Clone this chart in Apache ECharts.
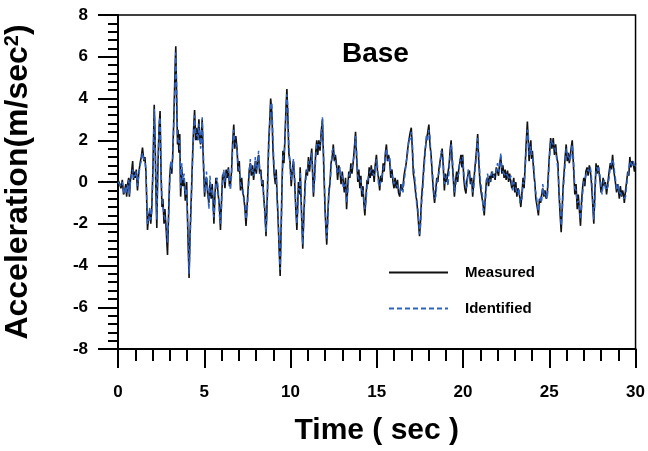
<!DOCTYPE html>
<html>
<head>
<meta charset="utf-8">
<script src="https://cdn.jsdelivr.net/npm/echarts@6/dist/echarts.min.js"></script>
<style>
  html, body { margin: 0; padding: 0; background: #fff; }
  #chart { width: 648px; height: 451px; }
</style>
</head>
<body>
<div id="chart"></div>
<script>
// time (sec), every 0.06 s
const time = [
  0.00, 0.10, 0.17, 0.25, 0.32, 0.37, 0.45, 0.50, 0.56, 0.62, 0.66, 0.72, 0.78, 0.85, 0.90, 0.94,
  1.00, 1.06, 1.13, 1.20, 1.28, 1.35, 1.42, 1.50, 1.56, 1.62, 1.71, 1.78, 1.84, 1.90, 1.96,
  2.03, 2.10, 2.15, 2.20, 2.25, 2.30, 2.38, 2.44, 2.50, 2.55, 2.60, 2.67, 2.72, 2.80, 2.87, 2.95,
  3.00, 3.06, 3.12, 3.18, 3.25, 3.32, 3.35, 3.40, 3.45, 3.48, 3.53, 3.58, 3.63, 3.70, 3.76, 3.83, 3.90, 3.98,
  4.05, 4.12, 4.18, 4.25, 4.32, 4.38, 4.44, 4.50, 4.55, 4.60, 4.65, 4.69, 4.74, 4.79, 4.84, 4.88, 4.95,
  5.02, 5.08, 5.13, 5.20, 5.27, 5.33, 5.40, 5.46, 5.51, 5.56, 5.62, 5.68, 5.75, 5.82, 5.88, 5.94,
  6.00, 6.06, 6.13, 6.20, 6.27, 6.33, 6.40, 6.46, 6.52, 6.58, 6.64, 6.71, 6.77, 6.83, 6.90, 6.96,
  7.03, 7.10, 7.17, 7.23, 7.29, 7.36, 7.42, 7.48, 7.55, 7.61, 7.67, 7.73, 7.80, 7.86, 7.92, 7.96,
  8.02, 8.08, 8.15, 8.21, 8.28, 8.34, 8.40, 8.44, 8.50, 8.58, 8.65, 8.73, 8.80, 8.85, 8.92, 8.98,
  9.05, 9.12, 9.17, 9.21, 9.28, 9.34, 9.40, 9.46, 9.52, 9.56, 9.62, 9.68, 9.74, 9.79, 9.85, 9.90, 9.98,
  10.04, 10.10, 10.17, 10.24, 10.30, 10.37, 10.42, 10.46, 10.52, 10.56, 10.62, 10.66, 10.71, 10.78, 10.85, 10.92, 10.98,
  11.04, 11.10, 11.17, 11.23, 11.28, 11.33, 11.40, 11.46, 11.52, 11.58, 11.64, 11.71, 11.78, 11.85, 11.92,
  12.00, 12.05, 12.10, 12.16, 12.22, 12.29, 12.35, 12.42, 12.48, 12.54, 12.60, 12.67, 12.73, 12.80, 12.87, 12.93,
  13.00, 13.06, 13.12, 13.19, 13.25, 13.31, 13.38, 13.44, 13.50, 13.56, 13.63, 13.70, 13.77, 13.83, 13.90, 13.96,
  14.02, 14.08, 14.13, 14.20, 14.25, 14.31, 14.38, 14.44, 14.50, 14.56, 14.62, 14.68, 14.73, 14.79, 14.85, 14.91, 14.98,
  15.04, 15.10, 15.17, 15.23, 15.30, 15.37, 15.43, 15.50, 15.56, 15.62, 15.68, 15.75, 15.81, 15.88, 15.94,
  16.00, 16.06, 16.13, 16.20, 16.26, 16.33, 16.40, 16.46, 16.52, 16.58, 16.64, 16.71, 16.78, 16.85, 16.92,
  17.00, 17.06, 17.12, 17.19, 17.26, 17.32, 17.38, 17.44, 17.48, 17.54, 17.60, 17.67, 17.73, 17.80, 17.87, 17.94,
  18.02, 18.08, 18.15, 18.22, 18.28, 18.35, 18.42, 18.48, 18.54, 18.60, 18.67, 18.73, 18.79, 18.85, 18.92, 18.98,
  19.05, 19.13, 19.19, 19.25, 19.31, 19.37, 19.44, 19.50, 19.56, 19.63, 19.69, 19.75, 19.81, 19.88, 19.94, 19.98,
  20.04, 20.10, 20.17, 20.23, 20.30, 20.37, 20.43, 20.50, 20.56, 20.62, 20.68, 20.75, 20.85, 20.91, 20.98,
  21.05, 21.13, 21.18, 21.23, 21.30, 21.36, 21.42, 21.48, 21.54, 21.60, 21.66, 21.73, 21.80, 21.86, 21.93,
  22.00, 22.06, 22.12, 22.19, 22.25, 22.31, 22.38, 22.44, 22.50, 22.58, 22.64, 22.70, 22.77, 22.83, 22.87, 22.94,
  23.00, 23.06, 23.12, 23.19, 23.25, 23.30, 23.35, 23.42, 23.48, 23.54, 23.60, 23.67, 23.73, 23.78, 23.83, 23.87, 23.93, 23.97,
  24.02, 24.08, 24.13, 24.17, 24.22, 24.30, 24.37, 24.43, 24.50, 24.56, 24.62, 24.69, 24.75, 24.82, 24.88, 24.94,
  25.00, 25.08, 25.15, 25.23, 25.30, 25.37, 25.43, 25.50, 25.56, 25.63, 25.69, 25.75, 25.81, 25.87, 25.93, 25.98,
  26.04, 26.10, 26.16, 26.22, 26.28, 26.33, 26.40, 26.48, 26.55, 26.62, 26.68, 26.75, 26.81, 26.87, 26.94,
  27.00, 27.06, 27.12, 27.19, 27.25, 27.32, 27.38, 27.44, 27.50, 27.58, 27.64, 27.71, 27.77, 27.83, 27.87, 27.94,
  28.00, 28.06, 28.12, 28.19, 28.25, 28.32, 28.40, 28.47, 28.54, 28.60, 28.67, 28.73, 28.78, 28.83, 28.90, 28.96,
  29.00, 29.06, 29.12, 29.19, 29.25, 29.30, 29.35, 29.42, 29.48, 29.55, 29.61, 29.67, 29.73, 29.80, 29.87, 29.94, 30.00
]

// measured acceleration (m/sec^2)
const measured = [
  0.1, -0.1, -0.3, 0.1, -0.6, -0.5, -0.1, -0.7, -0.1, 0.2, -0.7, 0.1, 0.4, 1.0, 0.1, 0.5,
  0.2, 0.6, -0.4, 0.4, 0.9, 1.2, 1.65, 1.0, 1.2, 0.5, -2.3, -1.6, -1.4, -2.0, -1.2,
  0.8, 3.7, 2.0, -0.5, -2.2, 0.3, 2.6, 3.4, 0.2, -1.2, -0.8, -2.0, -1.3, -2.4, -3.5, -1.0,
  0.3, 0.9, 0.4, 1.5, 3.5, 5.8, 6.5, 4.0, 1.8, 2.5, 1.4, 2.3, -0.7, 0.6, -0.2, 0.2, -0.9, 0.0,
  -2.5, -4.6, -2.4, -0.7, 1.2, 2.5, 3.45, 2.0, 2.6, 2.0, 2.4, 3.0, 2.1, 1.8, 2.3, 3.0, 0.9,
  -0.7, 0.1, 0.2, -0.6, -1.0, 0.0, -0.8, -0.1, -0.9, -2.0, -0.6, 0.2, -0.1, -0.7, -1.2, -2.3,
  -0.9, 0.3, 0.4, -0.3, 0.6, 0.2, 0.7, -0.2, -0.1, 0.5, 1.8, 2.75, 1.6, 2.2, 1.6, 0.5,
  1.0, -0.4, 0.2, -0.5, -0.7, -1.3, -2.1, -1.2, -0.2, 0.6, 0.9, 0.3, 0.8, 0.1, 0.6, 1.0,
  0.4, 1.0, 1.3, 0.4, 0.6, -0.2, 0.1, -0.7, -1.2, -2.6, -0.8, 1.8, 3.0, 4.0, 3.3, 1.6,
  0.4, -0.1, 0.6, -0.4, -1.8, -3.2, -4.5, -2.0, 0.3, 1.5, 0.9, 2.2, 3.6, 4.45, 3.0, 1.4, 0.9,
  -0.2, 0.5, 1.0, 0.0, -1.2, -2.3, -1.0, 0.0, -0.6, 0.7, -1.0, -2.0, -3.2, -1.4, 0.0, 0.6, 0.3,
  1.2, 0.5, 1.1, 1.6, 0.4, -0.7, 0.4, 1.4, 2.0, 1.3, 2.0, 1.5, 2.4, 3.0, 0.9,
  -1.3, -2.2, -3.0, -1.6, -0.6, 0.0, 0.9, 1.2, 1.8, 1.0, 1.3, 0.8, 0.1, 0.8, 0.5, -0.1,
  0.5, 0.0, -0.5, 0.2, -1.3, -0.3, 0.5, 0.2, 0.9, 0.4, 0.9, 1.6, 2.4, 1.2, 0.0, 0.6,
  -0.3, 0.3, -0.7, -0.2, -1.0, -1.6, -0.6, 0.1, -0.1, 0.7, 0.2, 0.8, 0.3, 0.6, 0.0, 0.8, 1.3,
  0.5, 0.2, -0.4, 0.3, 0.0, 0.9, 0.5, 1.4, 1.8, 1.0, 1.3, 1.0, 0.2, 0.6, 0.0,
  -0.3, 0.2, -0.3, 0.1, -0.5, -0.7, -0.1, -0.4, -0.2, 0.3, 0.6, 0.9, 1.5, 1.9, 2.3,
  2.6, 1.6, 0.4, 0.0, -0.6, -0.9, -1.5, -2.2, -2.6, -1.8, -0.7, 0.0, 0.8, 1.5, 2.0, 2.3,
  2.75, 1.8, 1.3, 0.3, -0.4, -1.0, -0.4, 0.2, 0.0, 0.6, 1.0, 1.3, 1.6, 0.8, -0.4, 0.4,
  0.0, 0.0, 0.8, 1.5, 2.0, 1.0, 0.1, -0.7, 0.0, 0.5, 0.0, 0.6, 0.9, 1.3, 0.7, 1.3,
  0.2, -0.3, -0.55, 0.1, 0.4, 0.55, -0.1, 0.2, -0.7, 0.0, 0.6, 1.2, 2.3, 1.0, 0.0,
  -0.5, -0.9, -1.2, -1.6, -0.6, 0.1, 0.2, -0.2, 0.3, 0.0, 0.5, 0.2, 0.4, 0.1, 0.7,
  0.7, 0.3, 0.9, 1.2, 0.4, 0.8, 0.2, 0.6, 0.1, 0.55, 0.0, 0.4, 0.0, -0.3, -0.2, 0.2,
  -0.5, 0.0, -0.7, -0.3, -0.5, -0.8, -1.2, -0.5, 0.2, -0.3, 0.8, 2.0, 2.9, 2.0, 1.0, 1.65, 2.0, 1.1,
  1.5, 0.7, 0.2, -0.1, -0.8, -1.2, -1.6, -0.8, -1.0, -0.6, -0.3, -0.7, -0.4, -0.8, -0.6, 0.3,
  1.2, 2.1, 1.6, 2.1, 1.3, 1.8, 1.2, 0.9, -0.5, -1.6, -2.4, -1.2, -0.1, 0.6, 1.3, 1.8,
  1.0, 1.4, 0.9, 1.3, 1.7, 2.0, 0.8, -0.6, -0.1, -1.3, -0.6, -1.4, -2.1, -0.9, -0.2,
  0.2, -0.2, 0.5, 0.7, 0.3, 0.8, 0.55, 0.0, -0.8, -2.0, -0.6, 0.9, 0.4, 0.8, 0.55, 0.1,
  -0.5, -0.3, 0.2, -0.2, 0.0, -0.6, 0.0, 0.5, 0.9, 0.6, 1.3, 0.6, 0.3, 0.0, -0.5, -0.1,
  -0.3, -0.8, -0.2, -0.7, -0.4, -0.6, -1.0, -0.4, 0.0, 0.5, 0.3, 1.2, 0.7, 1.0, 0.86, 0.5, 0.9
]

// identified acceleration (m/sec^2)
const identified = [
  0.0, 0.0, -0.2, 0.0, -0.4, -0.6, -0.2, -0.5, -0.2, 0.1, -0.6, 0.0, 0.3, 0.6, 0.2, 0.4,
  0.3, 0.5, -0.2, 0.3, 0.8, 1.0, 1.4, 1.1, 1.0, 0.6, -2.0, -1.9, -1.2, -1.8, -1.4,
  0.5, 3.5, 2.4, -0.2, -1.8, 0.0, 2.8, 3.1, 0.6, -0.9, -1.1, -1.6, -1.6, -2.0, -2.9, -1.4,
  0.0, 1.0, 0.6, 1.2, 3.2, 5.0, 6.2, 4.6, 2.3, 2.0, 1.8, 2.0, -0.3, 0.9, 0.1, 0.4, -0.6, -0.3,
  -2.2, -4.4, -2.8, -0.9, 0.9, 2.2, 3.2, 2.4, 2.2, 2.3, 2.0, 2.8, 2.4, 1.6, 2.0, 3.1, 1.4,
  -0.5, -0.2, 0.5, -0.4, -1.3, 0.3, -0.5, -0.3, -1.3, -1.7, -0.9, 0.0, 0.2, -0.5, -1.6, -2.0,
  -1.2, 0.0, 0.6, 0.0, 0.4, 0.5, 0.6, 0.1, -0.4, 0.3, 1.5, 2.5, 2.0, 1.8, 1.7, 0.8,
  0.6, -0.1, -0.1, -0.3, -0.9, -1.0, -1.8, -1.5, -0.5, 0.3, 1.1, 0.5, 0.6, 0.3, 0.4, 1.2,
  0.6, 0.7, 1.5, 0.7, 0.3, 0.0, -0.2, -0.5, -1.5, -2.4, -1.2, 1.4, 2.8, 3.7, 3.8, 2.2,
  0.7, 0.2, 0.3, -0.7, -1.5, -3.0, -4.2, -2.6, 0.0, 1.2, 1.3, 1.9, 3.3, 4.2, 3.5, 1.9, 0.6,
  0.1, 0.3, 1.1, 0.3, -0.9, -2.0, -1.4, -0.3, -0.4, 0.5, -0.7, -2.3, -3.0, -1.7, -0.3, 0.4, 0.6,
  1.0, 0.8, 0.9, 1.4, 0.8, -0.5, 0.1, 1.1, 1.8, 1.7, 1.8, 1.7, 2.2, 3.1, 1.3,
  -0.9, -2.0, -2.7, -2.0, -0.3, -0.2, 0.6, 1.5, 1.6, 1.3, 1.0, 1.0, 0.4, 0.5, 0.7, 0.2,
  0.3, -0.3, -0.2, -0.1, -1.0, -0.6, 0.3, 0.4, 0.6, 0.7, 1.0, 1.3, 2.2, 1.5, 0.3, 0.3,
  0.0, 0.1, -0.5, -0.4, -0.8, -1.3, -0.9, -0.2, 0.2, 0.4, 0.5, 0.6, 0.6, 0.4, 0.3, 0.6, 1.1,
  0.8, -0.1, -0.2, 0.0, 0.3, 0.6, 0.8, 1.2, 1.6, 1.3, 1.0, 1.2, 0.5, 0.3, 0.2,
  -0.1, 0.0, -0.1, -0.2, -0.3, -0.5, -0.4, -0.1, -0.5, 0.0, 0.4, 1.0, 1.3, 2.1, 2.0,
  2.4, 2.0, 0.8, 0.3, -0.3, -1.2, -1.3, -1.9, -2.5, -2.1, -1.0, -0.3, 0.5, 1.3, 2.2, 2.0,
  2.5, 2.2, 1.1, 0.6, -0.1, -0.8, -0.7, -0.1, 0.3, 0.4, 0.8, 1.5, 1.4, 1.1, -0.1, 0.1,
  0.3, -0.2, 0.5, 1.3, 1.8, 1.4, 0.4, -0.5, -0.3, 0.2, 0.3, 0.4, 1.1, 1.0, 1.0, 1.2,
  0.5, 0.0, -0.3, -0.2, 0.6, 0.3, 0.2, -0.1, -0.5, -0.3, 0.4, 1.0, 2.1, 1.4, 0.3,
  -0.2, -0.7, -1.4, -1.3, -0.9, -0.2, 0.4, 0.1, 0.0, 0.3, 0.3, 0.5, 0.2, 0.4, 0.5,
  0.9, 0.5, 0.7, 1.4, 0.7, 0.5, 0.4, 0.3, 0.4, 0.3, 0.2, 0.1, 0.3, 0.0, -0.4, 0.0,
  -0.2, -0.3, -0.5, -0.6, -0.3, -1.0, -0.9, -0.8, 0.0, -0.1, 0.5, 1.7, 2.5, 2.4, 1.3, 1.5, 1.7, 1.4,
  1.2, 1.0, 0.4, -0.3, -0.5, -1.0, -1.4, -1.1, -0.7, -0.9, -0.1, -0.5, -0.7, -0.6, -0.8, 0.0,
  1.0, 2.0, 1.9, 1.8, 1.7, 1.5, 1.5, 0.6, -0.2, -1.3, -2.1, -1.6, -0.4, 0.3, 1.0, 1.6,
  1.4, 1.1, 1.2, 1.0, 1.5, 1.8, 1.2, -0.3, -0.4, -1.0, -0.9, -1.2, -1.8, -1.3, -0.5,
  0.0, 0.1, 0.3, 0.5, 0.6, 0.5, 0.7, 0.3, -0.5, -1.8, -1.0, 0.6, 0.7, 0.5, 0.7, 0.3,
  -0.2, -0.6, -0.1, 0.1, -0.3, -0.4, -0.2, 0.2, 0.7, 0.9, 1.1, 0.9, 0.5, 0.2, -0.3, -0.4,
  -0.1, -0.6, -0.5, -0.5, -0.7, -0.8, -0.8, -0.7, -0.2, 0.3, 0.6, 1.0, 1.0, 0.8, 1.0, 0.7, 0.8
]

let myChart = echarts.init(document.getElementById('chart'))
const fontFamily = '"Liberation Sans", Arial, sans-serif'

let measuredData = time.map((t, i) => [t, measured[i]])
let identifiedData = time.map((t, i) => [t, identified[i]])

myChart.setOption({
  backgroundColor: '#fff',
  animation: false,
  grid: {
    left: 118,
    right: 11,
    top: 15,
    bottom: 96,
    show: true,
    borderColor: '#000',
    borderWidth: 1.5
  },
  graphic: [
    {
      type: 'text',
      left: 342,
      top: 40,
      style: {
        text: 'Base',
        font: 'bold 28px ' + fontFamily,
        fill: '#000'
      }
    },
    {
      type: 'text',
      x: 18,
      y: 182,
      rotation: Math.PI / 2,
      style: {
        text: '{a|Acceleration(m/sec}{b|2}{a|)}',
        align: 'center',
        verticalAlign: 'middle',
        rich: {
          a: { fontFamily: fontFamily, fontWeight: 'bold', fontSize: 32, color: '#000' },
          b: { fontFamily: fontFamily, fontWeight: 'bold', fontSize: 20, color: '#000', verticalAlign: 'top' }
        }
      }
    }
  ],
  legend: {
    orient: 'vertical',
    left: 388,
    top: 265,
    padding: 0,
    itemWidth: 59,
    itemHeight: 14,
    itemGap: 21,
    data: ['Measured', 'Identified'],
    itemStyle: { opacity: 0 },
    textStyle: {
      fontFamily: fontFamily,
      fontWeight: 'bold',
      fontSize: 15,
      color: '#000',
      padding: [0, 0, 0, 12]
    }
  },
  xAxis: {
    type: 'value',
    min: 0,
    max: 30,
    interval: 5,
    name: 'Time ( sec )',
    nameLocation: 'middle',
    nameGap: 67,
    nameTextStyle: {
      fontFamily: fontFamily,
      fontWeight: 'bold',
      fontSize: 30,
      color: '#000'
    },
    axisLine: { onZero: false, lineStyle: { color: '#000', width: 2 } },
    axisTick: { show: true, length: 19, lineStyle: { color: '#000', width: 2 } },
    minorTick: { show: true, splitNumber: 5, length: 12, lineStyle: { color: '#000', width: 2 } },
    splitLine: { show: false },
    axisLabel: {
      margin: 35,
      fontFamily: fontFamily,
      fontWeight: 'bold',
      fontSize: 17,
      color: '#000'
    }
  },
  yAxis: {
    type: 'value',
    min: -8,
    max: 8,
    interval: 2,
    axisLine: { onZero: false, lineStyle: { color: '#000', width: 2 } },
    axisTick: { show: true, length: 20, lineStyle: { color: '#000', width: 2 } },
    minorTick: { show: true, splitNumber: 5, length: 10, lineStyle: { color: '#000', width: 2 } },
    splitLine: { show: false },
    axisLabel: {
      margin: 30,
      fontFamily: fontFamily,
      fontWeight: 'bold',
      fontSize: 17,
      color: '#000'
    }
  },
  series: [
    {
      name: 'Measured',
      type: 'line',
      data: measuredData,
      symbol: 'none',
      itemStyle: { color: '#111' },
      lineStyle: { color: '#111', width: 1.6 }
    },
    {
      name: 'Identified',
      type: 'line',
      data: identifiedData,
      symbol: 'none',
      itemStyle: { color: '#2f62c2' },
      lineStyle: { color: '#2f62c2', width: 1.5, type: [5, 3] }
    }
  ]
})
</script>
</body>
</html>
